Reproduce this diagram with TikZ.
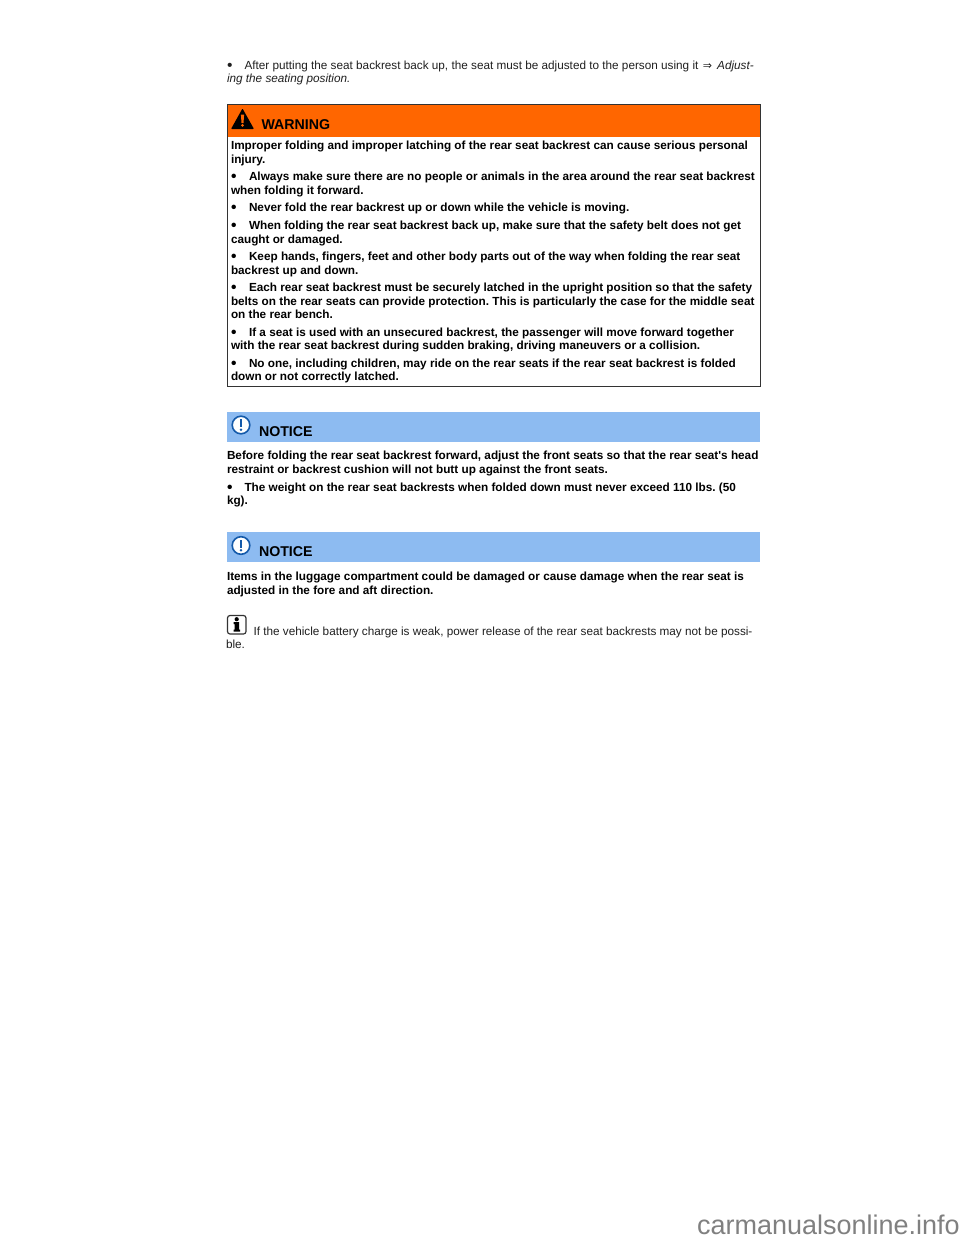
\documentclass[tikz,border=0pt]{standalone}
\usepackage{fontspec}
\setmainfont{Liberation Sans}
\newfontfamily\symfont{DejaVu Sans}
\newfontfamily\plainfont{Liberation Sans}
\newcommand{\bul}{\raisebox{-1pt}{\fontsize{15.5}{15.5}\selectfont •}}
\newcommand{\sq}{{\plainfont\char"27 }}
\definecolor{warnorange}{RGB}{255,102,0}
\definecolor{noticeblue}{RGB}{141,187,241}
\definecolor{iconblue}{RGB}{20,90,170}
\tikzset{
  txt/.style={anchor=base west,inner sep=0pt,outer sep=0pt,font=\fontsize{11.75}{13}\selectfont\frenchspacing,text=black!88},
  btxt/.style={anchor=base west,inner sep=0pt,outer sep=0pt,font=\fontsize{11.76}{13}\selectfont\bfseries\frenchspacing,text=black},
  head/.style={anchor=base west,inner sep=0pt,outer sep=0pt,font=\fontsize{14.2}{16}\selectfont\bfseries,text=black},
}
\begin{document}
\begin{tikzpicture}[x=1pt,y=-1pt]
\useasboundingbox (0,0) rectangle (960,1242);
\fill[white] (0,0) rectangle (960,1242);
% intro
\node[txt] (i0) at (227,69) {\bul};
\node[txt] (i1) at (244.5,69) {After putting the seat backrest back up, the seat must be adjusted to the person using it\hspace{4.5pt}{\symfont\fontsize{11}{12}\selectfont ⇒}\hspace{5pt}\textit{Adjust-}};
\node[txt] (i2) at (227,82.5) {\textit{ing the seating position.}};
% warning
\fill[warnorange] (227,105) rectangle (760,137);
\draw[black!80,line width=0.9pt] (227,104.5) rectangle (760,386.5);
\fill[black,rounded corners=0.8pt] (242.5,108.5) -- (254,129) -- (231,129) -- cycle;
\fill[warnorange] (240.9,114.5) -- (244.1,114.5) -- (243.5,123) -- (241.5,123) -- cycle;
\fill[warnorange] (242.5,125.4) circle (1.5);
\node[head] (wh) at (261.5,129.5) {WARNING};
\node[btxt] (w1) at (231,149.5) {Improper folding and improper latching of the rear seat backrest can cause serious personal};
\node[btxt] (w2) at (231,163) {injury.};
\node[btxt] (b1) at (231,180.5) {\bul};
\node[btxt] (w3) at (249,180.5) {Always make sure there are no people or animals in the area around the rear seat backrest};
\node[btxt] (w4) at (231,194) {when folding it forward.};
\node[btxt] (b2) at (231,211.5) {\bul};
\node[btxt] (w5) at (249,211.5) {Never fold the rear backrest up or down while the vehicle is moving.};
\node[btxt] (b3) at (231,229.5) {\bul};
\node[btxt] (w6) at (249,229.5) {When folding the rear seat backrest back up, make sure that the safety belt does not get};
\node[btxt] (w7) at (231,243) {caught or damaged.};
\node[btxt] (b4) at (231,260.5) {\bul};
\node[btxt] (w8) at (249,260.5) {Keep hands, fingers, feet and other body parts out of the way when folding the rear seat};
\node[btxt] (w9) at (231,274) {backrest up and down.};
\node[btxt] (b5) at (231,291.5) {\bul};
\node[btxt] (w10) at (249,291.5) {Each rear seat backrest must be securely latched in the upright position so that the safety};
\node[btxt] (w11) at (231,305) {belts on the rear seats can provide protection. This is particularly the case for the middle seat};
\node[btxt] (w12) at (231,318.5) {on the rear bench.};
\node[btxt] (b6) at (231,336) {\bul};
\node[btxt] (w13) at (249,336) {If a seat is used with an unsecured backrest, the passenger will move forward together};
\node[btxt] (w14) at (231,349.5) {with the rear seat backrest during sudden braking, driving maneuvers or a collision.};
\node[btxt] (b7) at (231,367) {\bul};
\node[btxt] (w15) at (249,367) {No one, including children, may ride on the rear seats if the rear seat backrest is folded};
\node[btxt] (w16) at (231,380.5) {down or not correctly latched.};
% notice 1
\fill[noticeblue] (227,412) rectangle (760,442);
\draw[iconblue,fill=white,line width=1.6pt] (241,425) circle (8.8);
\fill[iconblue] (239.8,419) rectangle (242.2,427);
\fill[iconblue] (241,429.8) circle (1.4);
\node[head] (n1h) at (259,436) {NOTICE};
\node[btxt] (n1) at (227,459.7) {Before folding the rear seat backrest forward, adjust the front seats so that the rear seat\sq s head};
\node[btxt] (n2) at (227,473.2) {restraint or backrest cushion will not butt up against the front seats.};
\node[btxt] (b8) at (227,491) {\bul};
\node[btxt] (n3) at (244.5,491) {The weight on the rear seat backrests when folded down must never exceed 110 lbs. (50};
\node[btxt] (n4) at (227,504.5) {kg).};
% notice 2
\fill[noticeblue] (227,532) rectangle (760,562);
\draw[iconblue,fill=white,line width=1.6pt] (241,545.5) circle (8.8);
\fill[iconblue] (239.8,539.5) rectangle (242.2,547.5);
\fill[iconblue] (241,550.3) circle (1.4);
\node[head] (n2h) at (259,556) {NOTICE};
\node[btxt] (m1) at (227,580.3) {Items in the luggage compartment could be damaged or cause damage when the rear seat is};
\node[btxt] (m2) at (227,594) {adjusted in the fore and aft direction.};
% info
\draw[black!80,fill=white,line width=1.2pt,rounded corners=2.5pt] (227.5,615.5) rectangle (246,634);
\fill[black] (236.7,619.2) circle (2.1);
\fill[black] (233.5,622.2) -- (239.2,622.2) -- (239.2,629.5) -- (240.2,629.5) -- (240.2,631.5) -- (233.5,631.5) -- (233.5,629.5) -- (234.6,629.5) -- (234.6,624.2) -- (233.5,624.2) -- cycle;
\node[txt] (t1) at (253.5,635) {If the vehicle battery charge is weak, power release of the rear seat backrests may not be possi-};
\node[txt] (t2) at (226,648.5) {ble.};
% watermark
\node[anchor=base east,inner sep=0pt,font=\fontsize{27}{30}\selectfont,text=black!50] (wm) at (960,1234) {carmanualsonline.info};
\end{tikzpicture}
\end{document}
